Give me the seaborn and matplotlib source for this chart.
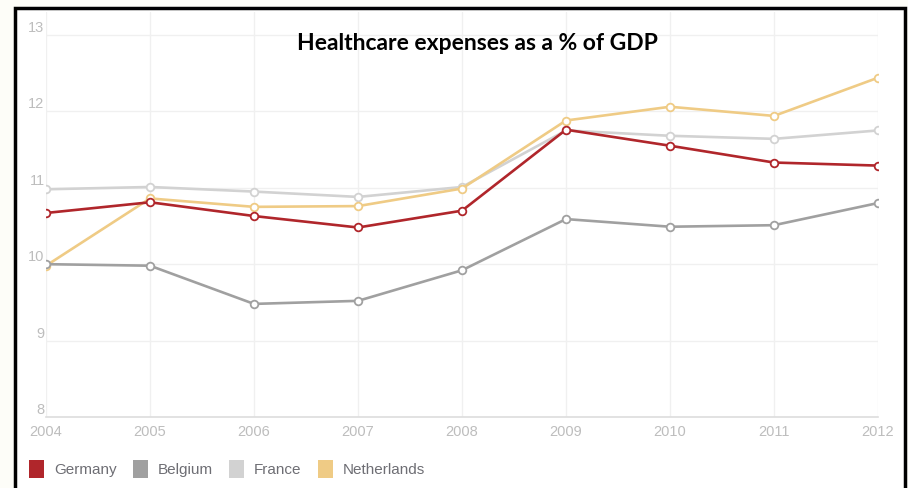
import numpy as np
import pandas as pd

import matplotlib
matplotlib.use("Agg")

import matplotlib.pyplot as plt
import seaborn as sns
from matplotlib.patches import Rectangle, Patch


# ------------------------ DATA --------------------------

YEARS = [2004, 2005, 2006, 2007, 2008, 2009, 2010, 2011, 2012]
GERMANY = [10.67, 10.81, 10.63, 10.48, 10.70, 11.76, 11.55, 11.33, 11.29]
BELGIUM = [10.00, 9.98, 9.48, 9.52, 9.92, 10.59, 10.49, 10.51, 10.80]
FRANCE = [10.98, 11.01, 10.95, 10.88, 11.01, 11.75, 11.68, 11.64, 11.75]
NETHERLANDS = [9.98, 10.86, 10.75, 10.76, 10.99, 11.88, 12.06, 11.94, 12.44]
COUNTRIES = ["Germany", "Belgium", "France", "Netherlands"]
Y_TICKS = [8, 9, 10, 11, 12, 13]

COLORS = {
    "Germany": "#b0262b",
    "Belgium": "#a0a0a0",
    "France": "#d2d2d2",
    "Netherlands": "#efcb85",
}
TITLE = "Healthcare expenses as a % of GDP"


def build_frame():
    values = {"Germany": GERMANY, "Belgium": BELGIUM,
              "France": FRANCE, "Netherlands": NETHERLANDS}
    rows = []
    for country in COUNTRIES:
        for year, v in zip(YEARS, values[country]):
            rows.append({"year": year, "value": v, "country": country})
    return pd.DataFrame(rows)


def main():
    sns.set_style("white")
    plt.rcParams["font.family"] = ["Liberation Sans Narrow", "Liberation Sans", "DejaVu Sans"]

    df = build_frame()

    fig = plt.figure(figsize=(9.08, 4.88), dpi=100)
    fig.patch.set_facecolor("#fdfdf8")

    # black frame round the chart (behind the axes)
    fig.patches.append(Rectangle((15 / 908, -0.05), (905 - 15) / 908, 1.05 - 8 / 488,
                                 transform=fig.transFigure, facecolor="white",
                                 edgecolor="black", linewidth=2.5, zorder=-5))

    ax = fig.add_axes([46 / 908, (488 - 417) / 488, 832 / 908, (417 - 12) / 488])
    ax.set_facecolor("none")
    ax.set_zorder(2)

    # draw back to front so red sits on top
    for country in ["France", "Netherlands", "Belgium", "Germany"]:
        sub = df[df["country"] == country]
        sns.lineplot(data=sub, x="year", y="value", ax=ax, color=COLORS[country],
                     linewidth=1.9, marker="o", markersize=5.5,
                     markerfacecolor="white", markeredgecolor=COLORS[country],
                     markeredgewidth=1.3, legend=False)

    ax.set_xlim(YEARS[0], YEARS[-1])
    ax.set_ylim(8, 13.3)
    ax.set_xticks(YEARS)
    ax.set_yticks(Y_TICKS)
    ax.set_xlabel("")
    ax.set_ylabel("")
    ax.grid(True, color="#f0f0f0", linewidth=1)
    for side in ["top", "right", "left"]:
        ax.spines[side].set_visible(False)
    ax.spines["bottom"].set_color("#dddddd")
    ax.spines["bottom"].set_linewidth(1.2)
    ax.tick_params(axis="both", length=0, labelsize=10.5, labelcolor="#bdbdbd")
    ax.tick_params(axis="x", pad=6)
    ax.tick_params(axis="y", pad=1)
    for lab in ax.get_yticklabels():
        lab.set_verticalalignment("bottom")

    fig.text(477 / 908, 1 - 43 / 488, TITLE, ha="center", va="center",
             fontsize=16.5, fontweight="bold", color="black",
             family=["Lato", "DejaVu Sans"])

    handles = [Patch(facecolor=COLORS[c], edgecolor="none", label=c) for c in COUNTRIES]
    leg = fig.legend(handles=handles, loc="center left",
                     bbox_to_anchor=(15 / 908, 1 - 469 / 488), ncol=4, frameon=False,
                     fontsize=11, handlelength=1.0, handleheight=1.5,
                     handletextpad=0.65, columnspacing=1.05)
    for t in leg.get_texts():
        t.set_color("#6e6e74")

    fig.savefig("out.png", dpi=100, facecolor=fig.get_facecolor())
    plt.close(fig)


if __name__ == "__main__":
    main()
